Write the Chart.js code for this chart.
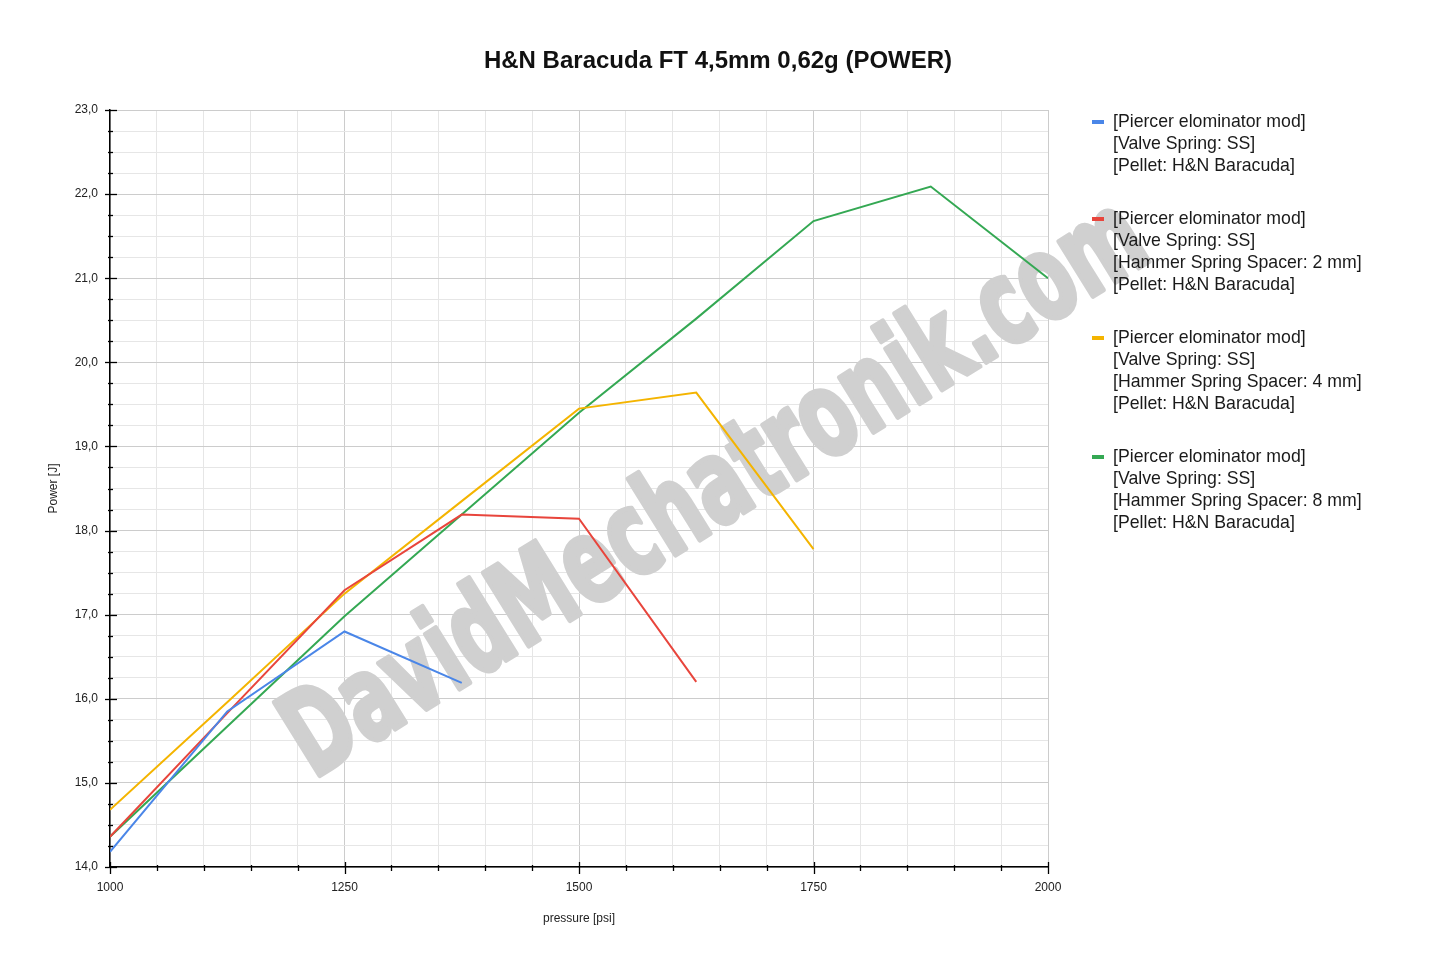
<!DOCTYPE html>
<html>
<head>
<meta charset="utf-8">
<script src="https://cdn.jsdelivr.net/npm/chart.js@4.4.1/dist/chart.umd.min.js"></script>
<style>
  html, body { margin: 0; padding: 0; background: #ffffff; }
  #wrap { position: relative; width: 1432px; height: 971px; }
</style>
</head>
<body>
<div id="wrap"><canvas id="c" width="1432" height="971"></canvas></div>
<script>
// ---------- data ----------
const chartTitle = "H&N Baracuda FT 4,5mm 0,62g (POWER)";
const xAxisTitle = "pressure [psi]";
const yAxisTitle = "Power [J]";
const watermarkText = "DavidMechatronik.com";

const pressure = [1000, 1125, 1250, 1375, 1500, 1625, 1750, 1875, 2000];

const seriesLabels = [
  ["[Piercer elominator mod]", "[Valve Spring: SS]", "[Pellet: H&N Baracuda]"],
  ["[Piercer elominator mod]", "[Valve Spring: SS]", "[Hammer Spring Spacer: 2 mm]", "[Pellet: H&N Baracuda]"],
  ["[Piercer elominator mod]", "[Valve Spring: SS]", "[Hammer Spring Spacer: 4 mm]", "[Pellet: H&N Baracuda]"],
  ["[Piercer elominator mod]", "[Valve Spring: SS]", "[Hammer Spring Spacer: 8 mm]", "[Pellet: H&N Baracuda]"]
];
const powerSS      = [14.18, 15.85, 16.80, 16.19];
const powerSpacer2 = [14.36, 15.83, 17.29, 18.19, 18.14, 16.20];
const powerSpacer4 = [14.68, 15.96, 17.25, 18.35, 19.45, 19.64, 17.78];
const powerSpacer8 = [14.36, 15.67, 16.98, 18.19, 19.40, 20.52, 21.68, 22.09, 21.00];
const seriesColors = ["#4a86e8", "#e8453c", "#f4b400", "#34a853"];

const xMin = 1000, xMax = 2000, xStep = 50, xMajor = 250;
const yMin = 14, yMax = 23, yStep = 0.25;

// ---------- build ----------
const seriesValues = [powerSS, powerSpacer2, powerSpacer4, powerSpacer8];
const datasets = seriesValues.map((vals, i) => ({
  label: seriesLabels[i],
  data: vals.map((v, j) => ({ x: pressure[j], y: v })),
  borderColor: seriesColors[i],
  backgroundColor: seriesColors[i],
  borderWidth: 2,
  pointRadius: 0,
  tension: 0,
  fill: false
}));

const isInt = v => Math.abs(v - Math.round(v)) < 1e-6;
const FONT = "'Liberation Sans', Arial, sans-serif";

const decorPlugin = {
  id: 'decor',
  beforeDatasetsDraw(chart) {
    const ctx = chart.ctx;
    const xs = chart.scales.x, ys = chart.scales.y;
    // watermark
    ctx.save();
    const cx = xs.getPixelForValue(1648), cy = ys.getPixelForValue(18.45);
    ctx.translate(cx, cy);
    ctx.rotate(-31.8 * Math.PI / 180);
    ctx.font = "bold 118px 'DejaVu Sans Condensed', 'DejaVu Sans', sans-serif";
    const w = ctx.measureText(watermarkText).width;
    ctx.scale(990 / w, 1);
    ctx.fillStyle = "#d0d0d0";
    ctx.strokeStyle = "#d0d0d0";
    ctx.lineWidth = 5;
    ctx.lineJoin = "round";
    ctx.textAlign = "center";
    ctx.textBaseline = "middle";
    ctx.fillText(watermarkText, 0, 0);
    ctx.strokeText(watermarkText, 0, 0);
    ctx.restore();
  },
  afterDraw(chart) {
    const ctx = chart.ctx;
    const xs = chart.scales.x, ys = chart.scales.y;
    const left = chart.chartArea.left, bottom = chart.chartArea.bottom;
    ctx.save();
    ctx.strokeStyle = "#000000";
    ctx.lineWidth = 1.3;
    // y ticks
    ys.ticks.forEach(t => {
      const y = Math.round(ys.getPixelForValue(t.value)) + 0.5;
      ctx.beginPath();
      if (isInt(t.value)) { ctx.moveTo(left - 5, y); ctx.lineTo(left + 7, y); }
      else { ctx.moveTo(left - 2, y); ctx.lineTo(left + 3, y); }
      ctx.stroke();
    });
    // x ticks
    xs.ticks.forEach(t => {
      const x = Math.round(xs.getPixelForValue(t.value)) + 0.5;
      ctx.beginPath();
      if (t.value % xMajor === 0) { ctx.moveTo(x, bottom - 5); ctx.lineTo(x, bottom + 7); }
      else { ctx.moveTo(x, bottom - 2); ctx.lineTo(x, bottom + 4); }
      ctx.stroke();
    });
    ctx.restore();

    // legend
    ctx.save();
    ctx.font = "17.7px " + FONT;
    ctx.textBaseline = "middle";
    ctx.textAlign = "left";
    let y = 122;
    chart.data.datasets.forEach((ds, i) => {
      ctx.fillStyle = ds.borderColor;
      ctx.fillRect(1092, y - 2, 12, 4);
      ctx.fillStyle = "#1a1a1a";
      ds.label.forEach((line, k) => {
        ctx.fillText(line, 1113, y + k * 22);
      });
      y += ds.label.length * 22 + 31;
    });
    ctx.restore();

    // title
    ctx.save();
    ctx.font = "bold 24px " + FONT;
    ctx.fillStyle = "#111111";
    ctx.textAlign = "center";
    ctx.textBaseline = "middle";
    ctx.fillText(chartTitle, 718, 61);
    ctx.restore();
  }
};

new Chart(document.getElementById('c'), {
  type: 'line',
  data: { datasets },
  options: {
    responsive: false,
    animation: false,
    layout: { padding: { top: 110, right: 384, left: 0, bottom: 0 } },
    plugins: { legend: { display: false }, tooltip: { enabled: false }, title: { display: false } },
    scales: {
      x: {
        type: 'linear', min: xMin, max: xMax,
        afterFit: s => { s.height = 104; },
        ticks: {
          stepSize: xStep, autoSkip: false, maxRotation: 0, padding: 13,
          color: "#222222", font: { family: FONT, size: 12 },
          callback: v => (v % xMajor === 0 ? String(v) : '')
        },
        grid: {
          drawTicks: false,
          color: c => (c.tick && c.tick.value % xMajor === 0 ? "#cccccc" : "#e6e6e6"),
          lineWidth: 1
        },
        border: { display: true, color: "#000000", width: 1.5 },
        title: { display: true, text: xAxisTitle, color: "#222222", font: { family: FONT, size: 12 }, padding: { top: 0, bottom: 45 } }
      },
      y: {
        type: 'linear', min: yMin, max: yMax,
        afterFit: s => { s.width = 110; },
        ticks: {
          stepSize: yStep, autoSkip: false, padding: 12,
          color: "#222222", font: { family: FONT, size: 12 },
          callback: v => (isInt(v) ? v.toFixed(1).replace('.', ',') : '')
        },
        grid: {
          drawTicks: false,
          color: c => (c.tick && isInt(c.tick.value) ? "#cccccc" : "#e6e6e6"),
          lineWidth: 1
        },
        border: { display: true, color: "#000000", width: 1.5 },
        title: { display: true, text: yAxisTitle, color: "#222222", font: { family: FONT, size: 12 }, padding: { top: 46, bottom: 0 } }
      }
    }
  },
  plugins: [decorPlugin]
});
</script>
</body>
</html>
